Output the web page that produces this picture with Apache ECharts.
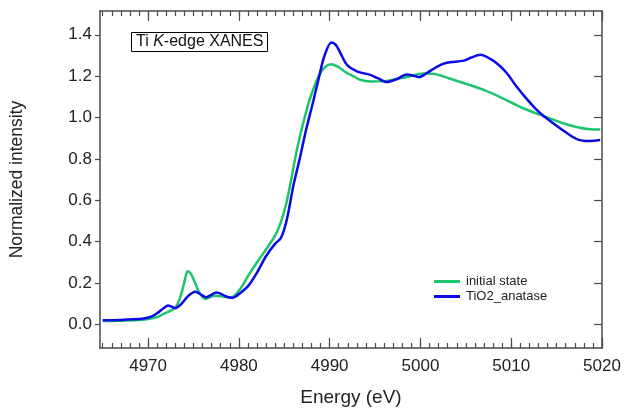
<!DOCTYPE html>
<html>
<head>
<meta charset="utf-8">
<script src="https://cdn.jsdelivr.net/npm/echarts@6/dist/echarts.min.js"></script>
<style>
  html, body { margin: 0; padding: 0; background: #fff; }
  #chart { width: 631px; height: 412px; }
</style>
</head>
<body>
<div id="chart"></div>
<script>
// 数据：能量 (eV) 与归一化强度
var initialState = [
  [4965, 0.016], [4967, 0.017], [4969, 0.020], [4970, 0.025], [4971, 0.035],
  [4971.7, 0.050], [4972.5, 0.066], [4973, 0.080], [4973.5, 0.125], [4974, 0.205],
  [4974.35, 0.256], [4974.7, 0.245], [4975.2, 0.197], [4975.7, 0.149], [4976.3, 0.122],
  [4977.3, 0.138], [4978.3, 0.134], [4979.1, 0.128], [4980.1, 0.168], [4981.1, 0.240],
  [4982, 0.300], [4983, 0.362], [4984, 0.430], [4984.6, 0.490], [4985.2, 0.580],
  [4985.7, 0.686], [4986.4, 0.846], [4987.1, 0.975], [4987.8, 1.087], [4988.8, 1.200],
  [4989.5, 1.245], [4990.2, 1.258], [4991, 1.243], [4991.9, 1.215], [4992.6, 1.200],
  [4993.3, 1.183], [4994.5, 1.174], [4996.3, 1.177], [4998.5, 1.196], [5000.3, 1.213],
  [5001.6, 1.210], [5003.1, 1.190], [5005.3, 1.159], [5007.1, 1.131], [5009.0, 1.094],
  [5011.2, 1.047], [5013.6, 1.006], [5015.8, 0.971], [5017.3, 0.953], [5018.7, 0.943],
  [5019.8, 0.942]
];
var tio2Anatase = [
  [4965, 0.019], [4967, 0.021], [4968.4, 0.024], [4969.5, 0.028], [4970.2, 0.034],
  [4971, 0.053], [4971.7, 0.077], [4972.2, 0.090], [4972.6, 0.085], [4973, 0.078],
  [4973.7, 0.100], [4974.4, 0.136], [4975.2, 0.157], [4975.9, 0.141], [4976.4, 0.130],
  [4977, 0.143], [4977.5, 0.154], [4978.1, 0.146], [4978.6, 0.134], [4979.3, 0.128],
  [4980.1, 0.149], [4981.1, 0.189], [4982, 0.250], [4983, 0.330], [4984, 0.390],
  [4984.6, 0.415], [4985, 0.460], [4985.4, 0.530], [4986, 0.670], [4986.7, 0.800],
  [4987.4, 0.940], [4988.2, 1.080], [4988.8, 1.190], [4989.4, 1.295], [4990.2, 1.363],
  [4990.7, 1.350], [4991.2, 1.310], [4991.9, 1.255], [4993, 1.223], [4994.4, 1.207],
  [4995.3, 1.190], [4996.3, 1.171], [4997.4, 1.186], [4998.5, 1.208], [4999.4, 1.200],
  [4999.9, 1.196], [5000.7, 1.215], [5002, 1.250], [5002.9, 1.265], [5004.8, 1.275],
  [5005.6, 1.290], [5006.6, 1.303], [5007.7, 1.283], [5008.6, 1.255], [5009.5, 1.215],
  [5010.5, 1.155], [5011.7, 1.090], [5012.7, 1.042], [5013.6, 1.006], [5015.8, 0.935],
  [5017.3, 0.894], [5018.6, 0.886], [5019.8, 0.891]
];
var xMajorTicks = [4970, 4980, 4990, 5000, 5010, 5020];
var xMinorTicks = [];
for (var e = 4965; e <= 5020; e++) { xMinorTicks.push(e); }
var yTicks = [0, 0.2, 0.4, 0.6, 0.8, 1.0, 1.2, 1.4];

var xMin = 4964.7, xMax = 5020;
var yMin = -0.115, yMax = 1.515;
var axisColor = '#4a4a4a';
var font = 'Liberation Sans, Arial, sans-serif';

var chart = echarts.init(document.getElementById('chart'));

// 构造x轴（上下各两条：主刻度 + 次刻度）
function makeX(position, ticks, len, showLabel, showLine) {
  return {
    type: 'value',
    position: position,
    min: xMin,
    max: xMax,
    axisLine: { show: showLine, onZero: false, lineStyle: { color: axisColor, width: 1.5 } },
    axisTick: { show: true, inside: true, length: len, customValues: ticks,
      lineStyle: { color: axisColor, width: 1.2 } },
    axisLabel: { show: showLabel, customValues: xMajorTicks, color: '#222',
      fontSize: 17, fontFamily: font, margin: 10,
      formatter: function (v) { return String(v); } },
    splitLine: { show: false },
    name: showLabel ? 'Energy (eV)' : '',
    nameLocation: 'middle',
    nameGap: 40,
    nameTextStyle: { color: '#222', fontSize: 19, fontFamily: font }
  };
}

chart.setOption({
  animation: false,
  title: {
    text: '{n|Ti }{i|K}{n|-edge XANES}',
    left: 131,
    top: 32,
    padding: [2, 4, 2, 5],
    borderColor: '#000',
    borderWidth: 1,
    textStyle: {
      fontWeight: 'normal',
      rich: {
        n: { fontSize: 16, fontFamily: font, color: '#111', fontWeight: 'normal' },
        i: { fontSize: 16, fontFamily: font, color: '#111', fontWeight: 'normal', fontStyle: 'italic' }
      }
    }
  },
  legend: {
    orient: 'vertical',
    left: 429,
    top: 270,
    icon: 'rect',
    itemWidth: 26,
    itemHeight: 3,
    itemGap: 2,
    textStyle: { fontSize: 13, fontFamily: font, color: '#222', padding: [0, 0, 0, 1] },
    data: ['initial state', 'TiO2_anatase']
  },
  grid: { left: 100, right: 29, top: 11, bottom: 62 },
  xAxis: [
    makeX('bottom', xMajorTicks, 10, true, true),
    makeX('bottom', xMinorTicks, 5, false, false),
    makeX('top', xMajorTicks, 10, false, true),
    makeX('top', xMinorTicks, 5, false, false)
  ],
  yAxis: [
    {
      type: 'value',
      position: 'left',
      min: yMin,
      max: yMax,
      axisLine: { show: true, onZero: false, lineStyle: { color: axisColor, width: 1.5 } },
      axisTick: { show: true, inside: false, length: 5, customValues: yTicks,
        lineStyle: { color: axisColor, width: 1.2 } },
      axisLabel: { customValues: yTicks, color: '#222', fontSize: 17, fontFamily: font, margin: 8,
        formatter: function (v) { return v.toFixed(1); } },
      splitLine: { show: false },
      name: 'Normalized intensity',
      nameLocation: 'middle',
      nameGap: 74,
      nameTextStyle: { color: '#222', fontSize: 17.5, fontFamily: font }
    },
    {
      type: 'value',
      position: 'right',
      min: yMin,
      max: yMax,
      axisLine: { show: true, onZero: false, lineStyle: { color: axisColor, width: 1.5 } },
      axisTick: { show: true, inside: true, length: 8, customValues: yTicks,
        lineStyle: { color: axisColor, width: 1.2 } },
      axisLabel: { show: false },
      splitLine: { show: false }
    }
  ],
  series: [
    {
      name: 'initial state',
      type: 'line',
      data: initialState,
      showSymbol: false,
      smooth: 0.3,
      itemStyle: { color: '#1ec46c' },
      lineStyle: { color: '#1ec46c', width: 2.5 }
    },
    {
      name: 'TiO2_anatase',
      type: 'line',
      data: tio2Anatase,
      showSymbol: false,
      smooth: 0.3,
      itemStyle: { color: '#0a0ae6' },
      lineStyle: { color: '#0a0ae6', width: 2.5 }
    }
  ]
});
</script>
</body>
</html>
